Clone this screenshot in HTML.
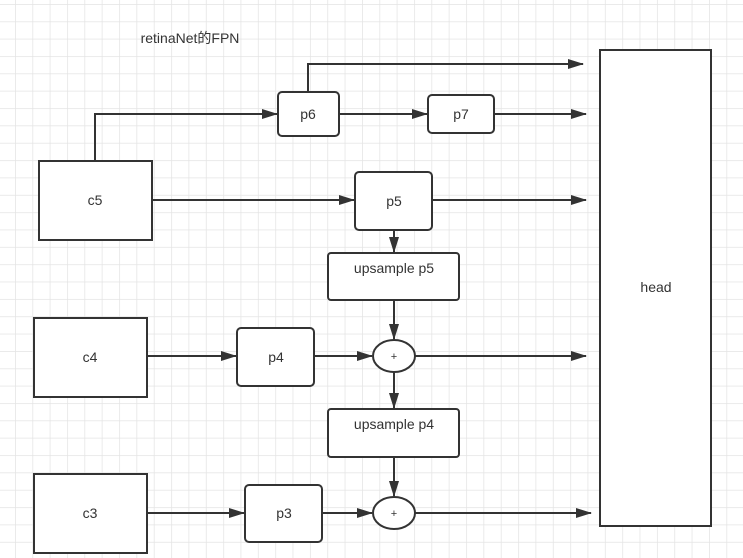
<!DOCTYPE html>
<html><head><meta charset="utf-8"><style>html,body{margin:0;padding:0;background:#fff}svg{display:block}</style></head><body>
<svg width="743" height="558" xmlns="http://www.w3.org/2000/svg">
<defs>
<pattern id="g" x="15" y="4" width="17.35" height="17.35" patternUnits="userSpaceOnUse"><path d="M0 0H17.35M0 0V17.35" stroke="#e4e4e4" stroke-width="1.5" fill="none"/></pattern>
<marker id="a" markerWidth="16" markerHeight="10" refX="15" refY="5" orient="auto" markerUnits="userSpaceOnUse"><path d="M0 0L16 5L0 10Z" fill="#333"/></marker>
</defs>
<rect width="743" height="558" fill="url(#g)"/>
<g font-family="Liberation Sans, Noto Sans CJK SC, sans-serif" font-size="14" fill="#333" text-anchor="middle">
<text x="190" y="43" font-size="14">retinaNet的FPN</text>
<g stroke="#333" stroke-width="2" fill="none" marker-end="url(#a)">
<path d="M95 161V114H277"/>
<path d="M308 92V64H583"/>
<path d="M339 114H427"/>
<path d="M494 114H586"/>
<path d="M152 200H354"/>
<path d="M432 200H586"/>
<path d="M394 230V252"/>
<path d="M394 300V339"/>
<path d="M147 356H236"/>
<path d="M314 356H372"/>
<path d="M415 356H586"/>
<path d="M394 372V408"/>
<path d="M394 457V496"/>
<path d="M147 513H244"/>
<path d="M322 513H372"/>
<path d="M415 513H591"/>
</g>
<g stroke="#333" stroke-width="2" fill="#fff">
<rect x="39" y="161" width="113" height="79"/>
<rect x="34" y="318" width="113" height="79"/>
<rect x="34" y="474" width="113" height="79"/>
<rect x="278" y="92" width="61" height="44" rx="4"/>
<rect x="428" y="95" width="66" height="38" rx="4"/>
<rect x="355" y="172" width="77" height="58" rx="4"/>
<rect x="328" y="253" width="131" height="47" rx="3"/>
<rect x="237" y="328" width="77" height="58" rx="4"/>
<rect x="328" y="409" width="131" height="48" rx="3"/>
<rect x="245" y="485" width="77" height="57" rx="4"/>
<ellipse cx="394" cy="356" rx="21" ry="16"/>
<ellipse cx="394" cy="513" rx="21" ry="16"/>
<rect x="600" y="50" width="111" height="476"/>
</g>
<text x="95" y="205">c5</text>
<text x="90" y="362">c4</text>
<text x="90" y="518">c3</text>
<text x="308" y="119">p6</text>
<text x="461" y="119">p7</text>
<text x="394" y="206">p5</text>
<text x="394" y="273">upsample p5</text>
<text x="276" y="362">p4</text>
<text x="394" y="429">upsample p4</text>
<text x="284" y="518">p3</text>
<text x="394" y="360" font-size="11">+</text>
<text x="394" y="517" font-size="11">+</text>
<text x="656" y="292">head</text>
</g>
</svg>
</body></html>
